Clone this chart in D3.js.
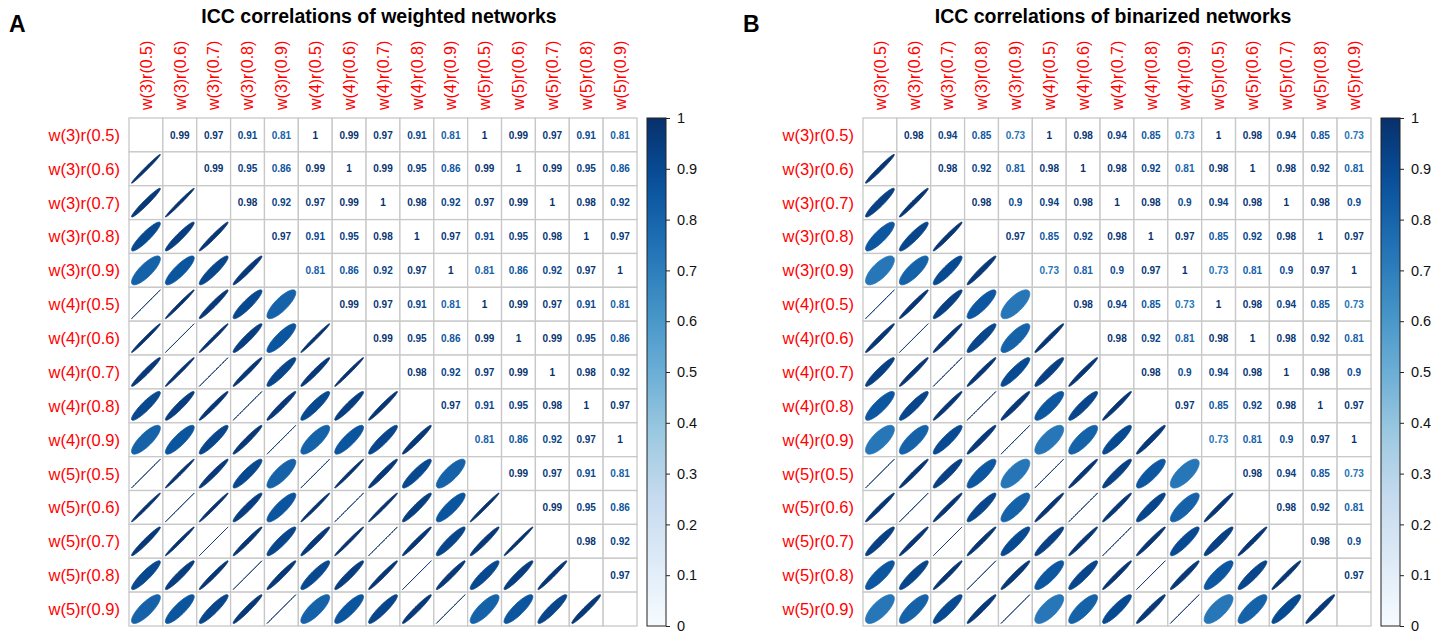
<!DOCTYPE html>
<html>
<head>
<meta charset="utf-8">
<script src="https://cdn.jsdelivr.net/npm/d3@7"></script>
<style>
  html, body { margin: 0; padding: 0; background: #fff; }
  svg { display: block; font-family: "Liberation Sans", Arial, Helvetica, sans-serif; }
</style>
</head>
<body>
<svg id="chart" width="1449" height="634"></svg>
<script>
// ---------------- DATA ----------------
const variableLabels = [
  "w(3)r(0.5)", "w(3)r(0.6)", "w(3)r(0.7)", "w(3)r(0.8)", "w(3)r(0.9)",
  "w(4)r(0.5)", "w(4)r(0.6)", "w(4)r(0.7)", "w(4)r(0.8)", "w(4)r(0.9)",
  "w(5)r(0.5)", "w(5)r(0.6)", "w(5)r(0.7)", "w(5)r(0.8)", "w(5)r(0.9)"
];

const weightedICC = [
  [1.00, 0.99, 0.97, 0.91, 0.81, 1.00, 0.99, 0.97, 0.91, 0.81, 1.00, 0.99, 0.97, 0.91, 0.81],
  [0.99, 1.00, 0.99, 0.95, 0.86, 0.99, 1.00, 0.99, 0.95, 0.86, 0.99, 1.00, 0.99, 0.95, 0.86],
  [0.97, 0.99, 1.00, 0.98, 0.92, 0.97, 0.99, 1.00, 0.98, 0.92, 0.97, 0.99, 1.00, 0.98, 0.92],
  [0.91, 0.95, 0.98, 1.00, 0.97, 0.91, 0.95, 0.98, 1.00, 0.97, 0.91, 0.95, 0.98, 1.00, 0.97],
  [0.81, 0.86, 0.92, 0.97, 1.00, 0.81, 0.86, 0.92, 0.97, 1.00, 0.81, 0.86, 0.92, 0.97, 1.00],
  [1.00, 0.99, 0.97, 0.91, 0.81, 1.00, 0.99, 0.97, 0.91, 0.81, 1.00, 0.99, 0.97, 0.91, 0.81],
  [0.99, 1.00, 0.99, 0.95, 0.86, 0.99, 1.00, 0.99, 0.95, 0.86, 0.99, 1.00, 0.99, 0.95, 0.86],
  [0.97, 0.99, 1.00, 0.98, 0.92, 0.97, 0.99, 1.00, 0.98, 0.92, 0.97, 0.99, 1.00, 0.98, 0.92],
  [0.91, 0.95, 0.98, 1.00, 0.97, 0.91, 0.95, 0.98, 1.00, 0.97, 0.91, 0.95, 0.98, 1.00, 0.97],
  [0.81, 0.86, 0.92, 0.97, 1.00, 0.81, 0.86, 0.92, 0.97, 1.00, 0.81, 0.86, 0.92, 0.97, 1.00],
  [1.00, 0.99, 0.97, 0.91, 0.81, 1.00, 0.99, 0.97, 0.91, 0.81, 1.00, 0.99, 0.97, 0.91, 0.81],
  [0.99, 1.00, 0.99, 0.95, 0.86, 0.99, 1.00, 0.99, 0.95, 0.86, 0.99, 1.00, 0.99, 0.95, 0.86],
  [0.97, 0.99, 1.00, 0.98, 0.92, 0.97, 0.99, 1.00, 0.98, 0.92, 0.97, 0.99, 1.00, 0.98, 0.92],
  [0.91, 0.95, 0.98, 1.00, 0.97, 0.91, 0.95, 0.98, 1.00, 0.97, 0.91, 0.95, 0.98, 1.00, 0.97],
  [0.81, 0.86, 0.92, 0.97, 1.00, 0.81, 0.86, 0.92, 0.97, 1.00, 0.81, 0.86, 0.92, 0.97, 1.00]
];

const binarizedICC = [
  [1.00, 0.98, 0.94, 0.85, 0.73, 1.00, 0.98, 0.94, 0.85, 0.73, 1.00, 0.98, 0.94, 0.85, 0.73],
  [0.98, 1.00, 0.98, 0.92, 0.81, 0.98, 1.00, 0.98, 0.92, 0.81, 0.98, 1.00, 0.98, 0.92, 0.81],
  [0.94, 0.98, 1.00, 0.98, 0.90, 0.94, 0.98, 1.00, 0.98, 0.90, 0.94, 0.98, 1.00, 0.98, 0.90],
  [0.85, 0.92, 0.98, 1.00, 0.97, 0.85, 0.92, 0.98, 1.00, 0.97, 0.85, 0.92, 0.98, 1.00, 0.97],
  [0.73, 0.81, 0.90, 0.97, 1.00, 0.73, 0.81, 0.90, 0.97, 1.00, 0.73, 0.81, 0.90, 0.97, 1.00],
  [1.00, 0.98, 0.94, 0.85, 0.73, 1.00, 0.98, 0.94, 0.85, 0.73, 1.00, 0.98, 0.94, 0.85, 0.73],
  [0.98, 1.00, 0.98, 0.92, 0.81, 0.98, 1.00, 0.98, 0.92, 0.81, 0.98, 1.00, 0.98, 0.92, 0.81],
  [0.94, 0.98, 1.00, 0.98, 0.90, 0.94, 0.98, 1.00, 0.98, 0.90, 0.94, 0.98, 1.00, 0.98, 0.90],
  [0.85, 0.92, 0.98, 1.00, 0.97, 0.85, 0.92, 0.98, 1.00, 0.97, 0.85, 0.92, 0.98, 1.00, 0.97],
  [0.73, 0.81, 0.90, 0.97, 1.00, 0.73, 0.81, 0.90, 0.97, 1.00, 0.73, 0.81, 0.90, 0.97, 1.00],
  [1.00, 0.98, 0.94, 0.85, 0.73, 1.00, 0.98, 0.94, 0.85, 0.73, 1.00, 0.98, 0.94, 0.85, 0.73],
  [0.98, 1.00, 0.98, 0.92, 0.81, 0.98, 1.00, 0.98, 0.92, 0.81, 0.98, 1.00, 0.98, 0.92, 0.81],
  [0.94, 0.98, 1.00, 0.98, 0.90, 0.94, 0.98, 1.00, 0.98, 0.90, 0.94, 0.98, 1.00, 0.98, 0.90],
  [0.85, 0.92, 0.98, 1.00, 0.97, 0.85, 0.92, 0.98, 1.00, 0.97, 0.85, 0.92, 0.98, 1.00, 0.97],
  [0.73, 0.81, 0.90, 0.97, 1.00, 0.73, 0.81, 0.90, 0.97, 1.00, 0.73, 0.81, 0.90, 0.97, 1.00]
];

const colorbarTicks = [0, 0.1, 0.2, 0.3, 0.4, 0.5, 0.6, 0.7, 0.8, 0.9, 1];
const bluesPalette = ["#F7FBFF", "#DEEBF7", "#C6DBEF", "#9ECAE1", "#6BAED6", "#4292C6", "#2171B5", "#08519C", "#08306B"];

const panels = [
  { letter: "A", title: "ICC correlations of weighted networks", matrix: weightedICC },
  { letter: "B", title: "ICC correlations of binarized networks", matrix: binarizedICC }
];

// ---------------- LAYOUT ----------------
const svg = d3.select("#chart");
const panelOffsets = [0, 734];
const gridLeft = 129, gridTop = 118, gridSize = 508;

const color = d3.scaleLinear()
  .domain(bluesPalette.map((_, i) => i / (bluesPalette.length - 1)))
  .range(bluesPalette)
  .interpolate(d3.interpolateRgb);

const defs = svg.append("defs");
const grad = defs.append("linearGradient").attr("id", "bluesGrad")
  .attr("x1", 0).attr("y1", 1).attr("x2", 0).attr("y2", 0);
d3.range(0, 1.0001, 0.05).forEach(t => {
  grad.append("stop").attr("offset", t).attr("stop-color", color(t));
});

function ellipsePoints(rho, cx, cy, size) {
  const a = Math.acos(Math.max(-1, Math.min(1, rho)));
  const n = 99, pts = [];
  for (let i = 0; i < n; i++) {
    const k = 2 * Math.PI * i / (n - 1);
    pts.push([cx + 0.85 * size * Math.cos(k + a / 2) / 2,
              cy - 0.85 * size * Math.cos(k - a / 2) / 2]);
  }
  return pts;
}
const lineGen = d3.line().curve(d3.curveLinearClosed);

panels.forEach((p, pi) => {
  const ox = panelOffsets[pi];
  const g = svg.append("g").attr("transform", `translate(${ox},0)`);
  const x = d3.scaleBand().domain(variableLabels).range([gridLeft, gridLeft + gridSize]);
  const y = d3.scaleBand().domain(variableLabels).range([gridTop, gridTop + gridSize]);
  const bw = x.bandwidth();

  // panel letter
  g.append("text").attr("x", pi === 0 ? 9 : 9).attr("y", 32)
    .attr("font-size", 23).attr("font-weight", "bold").attr("fill", "#000").text(p.letter);

  // title
  g.append("text").attr("x", gridLeft + 250).attr("y", 23)
    .attr("text-anchor", "middle").attr("font-size", 19.5).attr("font-weight", "bold")
    .attr("fill", "#000").text(p.title);

  // cells
  const cells = [];
  p.matrix.forEach((row, i) => row.forEach((v, j) => cells.push({ i, j, v })));

  g.append("g").selectAll("rect").data(cells).join("rect")
    .attr("x", d => x(variableLabels[d.j]))
    .attr("y", d => y(variableLabels[d.i]))
    .attr("width", bw).attr("height", bw)
    .attr("fill", "#fff").attr("stroke", "#c8c8c8").attr("stroke-width", 1.3);

  // lower triangle ellipses
  g.append("g").selectAll("path").data(cells.filter(d => d.i > d.j)).join("path")
    .attr("d", d => lineGen(ellipsePoints(d.v,
        x(variableLabels[d.j]) + bw / 2, y(variableLabels[d.i]) + bw / 2, bw)))
    .attr("fill", d => color(d.v)).attr("stroke", d => color(d.v)).attr("stroke-width", 0.9);

  // upper triangle numbers
  g.append("g").selectAll("text").data(cells.filter(d => d.i < d.j)).join("text")
    .attr("x", d => x(variableLabels[d.j]) + bw / 2)
    .attr("y", d => y(variableLabels[d.i]) + bw / 2)
    .attr("dy", "0.36em").attr("text-anchor", "middle")
    .attr("font-size", 10).attr("font-weight", "bold")
    .attr("fill", d => color(d.v)).text(d => String(d.v));

  // row labels
  g.append("g").selectAll("text").data(variableLabels).join("text")
    .attr("x", gridLeft - 9).attr("y", d => y(d) + bw / 2).attr("dy", "0.36em")
    .attr("text-anchor", "end").attr("font-size", 16.5).attr("fill", "#ff0000").text(d => d);

  // column labels
  g.append("g").selectAll("text").data(variableLabels).join("text")
    .attr("transform", d => `translate(${x(d) + bw / 2},${gridTop - 8}) rotate(-90)`)
    .attr("dy", "0.36em").attr("text-anchor", "start").attr("font-size", 16)
    .attr("fill", "#ff0000").text(d => d);

  // colorbar
  const cbX = gridLeft + gridSize + 10, cbW = 19;
  const cbScale = d3.scaleLinear().domain([0, 1]).range([gridTop + gridSize, gridTop]);
  g.append("rect").attr("x", cbX).attr("y", gridTop).attr("width", cbW).attr("height", gridSize)
    .attr("fill", "url(#bluesGrad)").attr("stroke", "#222").attr("stroke-width", 1);
  const axis = d3.axisRight(cbScale).tickValues(colorbarTicks).tickSize(4).tickPadding(7)
    .tickFormat(d3.format("~g"));
  const ag = g.append("g").attr("transform", `translate(${cbX + cbW},0)`).call(axis);
  ag.select(".domain").remove();
  ag.selectAll(".tick line").attr("stroke", "#222");
  ag.selectAll(".tick text").attr("font-size", 14.5).attr("fill", "#111")
    .attr("font-family", "'Liberation Sans', Arial, sans-serif");
});
</script>
</body>
</html>
